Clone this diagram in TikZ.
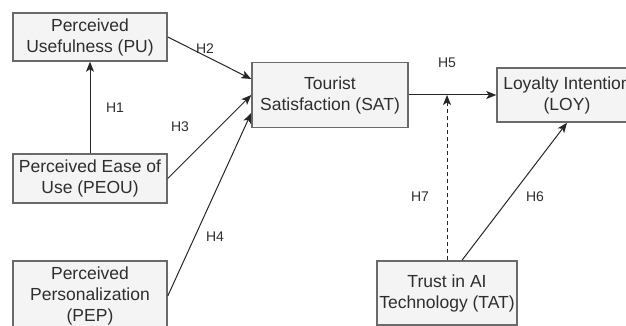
\documentclass[tikz,border=0pt]{standalone}
\usepackage{fontspec}
\setmainfont{Liberation Sans}
\usetikzlibrary{arrows.meta}
\definecolor{boxfill}{HTML}{F4F4F4}
\definecolor{boxdraw}{HTML}{6A6A6A}
\definecolor{txt}{HTML}{2E2E2E}
\begin{document}
\begin{tikzpicture}[x=1pt,y=1pt,
  box/.style={draw=boxdraw,fill=boxfill,line width=1.5pt,align=center,text=txt,
    font=\fontsize{17.5}{21}\selectfont,inner sep=0pt},
  lab/.style={text=txt,font=\fontsize{14}{16}\selectfont,inner sep=0pt},
  arr/.style={draw=black!85,line width=1pt,-{Stealth[length=10pt,width=8pt,inset=2.5pt]}}]
\useasboundingbox (0,0) rectangle (626,-326);
\clip (0,0) rectangle (626,-326);
\node[box,minimum width=154pt,minimum height=48pt] (pu) at (90,-37) {Perceived\\Usefulness (PU)};
\node[box,minimum width=156pt,minimum height=65pt] (sat) at (330,-95) {Tourist\\Satisfaction (SAT)};
\node[box,minimum width=140pt,minimum height=54pt] (loy) at (567,-95) {Loyalty Intention\\(LOY)};
\node[box,minimum width=154pt,minimum height=49pt] (peou) at (90,-178.5) {Perceived Ease of\\Use (PEOU)};
\node[box,minimum width=154pt,minimum height=70pt] (pep) at (90,-296) {Perceived\\Personalization\\(PEP)};
\node[box,minimum width=140pt,minimum height=64pt] (tat) at (447,-293) {Trust in AI\\Technology (TAT)};
\coordinate (m) at (tat.north |- sat.east);
\draw[arr] (peou.north) -- (pu.south);
\draw[arr] (pu.east) -- ([yshift=16pt]sat.west);
\draw[arr] (peou.east) -- (sat.west);
\draw[arr] (pep.east) -- ([yshift=-18pt]sat.west);
\draw[arr] (sat.east) -- (loy.west);
\draw[arr,dash pattern=on 4pt off 3pt] (tat.north) -- (m);
\draw[arr] ([xshift=15pt]tat.north) -- (loy.south);
\node[lab] (h1) at (115,-108) {H1};
\node[lab] (h2) at (205,-49) {H2};
\node[lab] (h3) at (180,-127) {H3};
\node[lab] (h4) at (215,-237) {H4};
\node[lab] (h5) at (447,-63) {H5};
\node[lab] (h6) at (535,-197) {H6};
\node[lab] (h7) at (420,-197) {H7};
\end{tikzpicture}
\end{document}
